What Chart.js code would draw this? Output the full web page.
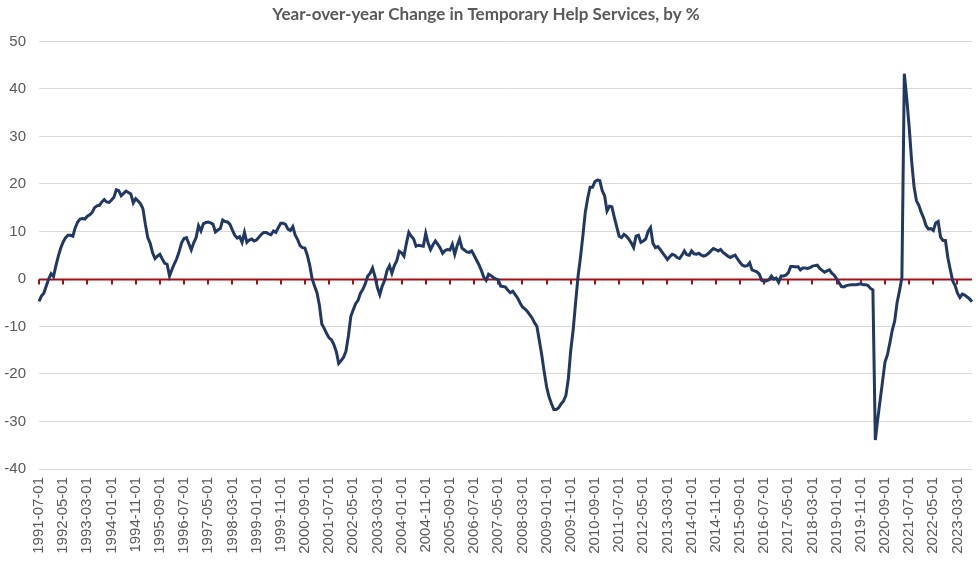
<!DOCTYPE html>
<html>
<head>
<meta charset="utf-8">
<script src="https://cdn.jsdelivr.net/npm/chart.js@4.4.1/dist/chart.umd.min.js"></script>
<style>
  html, body { margin: 0; padding: 0; background: #fff; }
  #wrap { width: 978px; height: 561px; }
</style>
</head>
<body>
<div id="wrap"><canvas id="chartTemp"></canvas></div>
<script>
// monthly YoY % change, first month = 1991-07
const firstYear = 1991;
const firstMonth = 7;

const yoy1991_1996 = [
  -4.7, -3.6, -3.0, -1.5, 0.0, 1.1, 0.5, 2.8, 4.8, 6.5, 7.8, 8.7,
  9.2, 9.2, 9.0, 10.8, 12.0, 12.6, 12.7, 12.6, 13.2, 13.5, 14.0, 15.0,
  15.4, 15.5, 16.2, 16.7, 16.2, 16.1, 16.6, 17.2, 18.8, 18.6, 17.5, 18.0,
  18.5, 18.2, 17.9, 16.0, 16.9, 16.4, 15.8, 14.8, 11.5, 8.7, 7.5, 5.5,
  4.3, 4.8, 5.2, 4.2, 3.3, 3.1, 0.6, 2.0, 3.2, 4.3, 5.8, 7.6
];
const yoy1996_2001 = [
  8.5, 8.7, 7.4, 6.1, 7.6, 8.7, 11.2, 10.1, 11.6, 11.9, 12.0, 11.8,
  11.5, 9.9, 10.3, 10.6, 12.4, 12.1, 12.0, 11.5, 10.3, 9.2, 8.6, 8.9,
  7.7, 9.8, 7.7, 8.2, 8.4, 8.0, 8.2, 8.8, 9.4, 9.8, 9.8, 9.5,
  9.3, 10.1, 9.8, 10.8, 11.7, 11.7, 11.5, 10.5, 10.2, 11.0, 9.2, 8.3,
  7.0, 6.6, 6.5, 5.0, 2.9, 0.0, -1.5, -2.9, -5.5, -9.5, -10.4, -11.5
];
const yoy2001_2006 = [
  -12.4, -12.8, -13.8, -15.3, -17.8, -17.2, -16.5, -15.2, -12.0, -7.9, -6.5, -5.2,
  -4.5, -3.0, -2.2, -1.0, 0.6, 1.2, 2.3, 0.5, -1.8, -3.3, -1.5, -0.3,
  1.8, 2.8, 1.2, 2.8, 3.8, 5.8, 5.5, 4.8, 7.5, 9.8, 9.0, 8.4,
  6.9, 7.1, 7.0, 6.9, 9.6, 7.5, 6.2, 7.2, 8.0, 7.3, 6.5, 5.4,
  6.0, 6.2, 6.1, 7.3, 5.2, 7.0, 8.4, 6.5, 6.1, 5.7, 5.6, 5.9
];
const yoy2006_2011 = [
  5.0, 4.0, 3.0, 1.8, 0.4, -0.3, 1.0, 0.7, 0.3, 0.0, -0.2, -1.5,
  -1.6, -1.7, -2.4, -2.9, -2.6, -3.3, -4.0, -5.0, -5.9, -6.3, -6.8, -7.5,
  -8.2, -9.2, -10.0, -13.0, -16.0, -19.5, -22.7, -24.8, -26.2, -27.5, -27.5, -27.1,
  -26.3, -25.7, -24.5, -21.0, -15.0, -10.7, -5.0, 0.5, 4.5, 9.0, 14.0, 17.0,
  19.3, 19.3, 20.5, 20.8, 20.7, 18.6, 17.5, 14.3, 15.3, 15.2, 13.0, 11.0
];
const yoy2011_2016 = [
  9.0, 8.7, 9.4, 9.0, 8.4, 7.6, 6.6, 9.0, 9.2, 7.7, 8.0, 8.4,
  10.0, 10.8, 7.5, 6.6, 6.8, 6.2, 5.5, 4.8, 4.1, 4.7, 5.2, 5.0,
  4.5, 4.3, 5.0, 5.9, 5.1, 5.0, 5.9, 5.3, 5.2, 5.4, 5.0, 4.8,
  5.0, 5.4, 5.9, 6.4, 6.2, 5.9, 6.2, 5.6, 5.2, 4.8, 4.5, 4.8,
  5.0, 4.2, 3.5, 2.9, 2.7, 2.8, 3.4, 1.9, 1.7, 1.5, 1.0, -0.3
];
const yoy2016_2021 = [
  -0.5, -0.4, -0.2, 0.6, 0.0, 0.2, -0.7, 0.6, 0.6, 0.8, 1.3, 2.6,
  2.6, 2.5, 2.6, 1.9, 2.3, 2.3, 2.2, 2.4, 2.7, 2.8, 2.9, 2.2,
  1.8, 1.4, 1.7, 1.9, 1.2, 0.8, 0.0, -0.8, -1.6, -1.7, -1.4, -1.3,
  -1.2, -1.2, -1.2, -1.1, -1.0, -1.2, -1.2, -1.4, -2.0, -2.3, -33.9, -29.5,
  -25.5, -21.5, -17.5, -16.0, -13.5, -10.8, -8.9, -5.0, -2.5, 0.3, 43.2, 38.0
];
const yoy2021_2023 = [
  32.0, 25.0, 19.5, 16.5, 15.5, 14.0, 12.8, 11.2, 10.5, 10.6, 10.2, 11.8,
  12.1, 8.8, 8.1, 8.1, 4.5, 2.0, -0.4, -1.4, -3.0, -3.9, -3.2, -3.4,
  -3.8, -4.2, -4.8
];

const yoyValues = [].concat(yoy1991_1996, yoy1996_2001, yoy2001_2006,
  yoy2006_2011, yoy2011_2016, yoy2016_2021, yoy2021_2023);

// category labels YYYY-MM-01
const monthLabels = [];
for (let i = 0; i < yoyValues.length; i++) {
  const m = firstMonth - 1 + i;
  const yy = firstYear + Math.floor(m / 12);
  const mm = (m % 12) + 1;
  monthLabels.push(yy + "-" + (mm < 10 ? "0" + mm : mm) + "-01");
}

const labelEvery = 10;
const yMin = -40;
const yMax = 50;
const yStep = 10;

// zero axis line in red with tick marks, like the Excel category axis
const zeroAxis = {
  id: "zeroAxis",
  beforeDatasetsDraw(chart) {
    const ctx = chart.ctx;
    const x = chart.scales.x;
    const y = chart.scales.y;
    const y0 = Math.round(y.getPixelForValue(0)) + 0.5;
    ctx.save();
    ctx.strokeStyle = "#a50f15";
    ctx.lineWidth = 2;
    ctx.beginPath();
    ctx.moveTo(chart.chartArea.left, y0);
    ctx.lineTo(chart.chartArea.right, y0);
    ctx.stroke();
    ctx.beginPath();
    for (let i = 0; i < monthLabels.length; i += labelEvery) {
      const px = Math.round(x.getPixelForValue(i));
      ctx.moveTo(px, y0);
      ctx.lineTo(px, y0 + 5);
    }
    ctx.stroke();
    ctx.restore();
  }
};

new Chart(document.getElementById("chartTemp"), {
  type: "line",
  data: {
    labels: monthLabels,
    datasets: [{
      data: yoyValues,
      borderColor: "#203864",
      borderWidth: 3,
      pointRadius: 0,
      tension: 0,
      fill: false
    }]
  },
  plugins: [zeroAxis],
  options: {
    responsive: true,
    maintainAspectRatio: false,
    animation: false,
    layout: { padding: { top: 0, right: 6, bottom: 0, left: 0 } },
    plugins: {
      legend: { display: false },
      tooltip: { enabled: false },
      title: {
        display: true,
        text: "Year-over-year Change in Temporary Help Services, by %",
        color: "#595959",
        font: { family: "Lato", size: 17, weight: "bold" },
        padding: { top: 4, bottom: 17 }
      }
    },
    scales: {
      x: {
        grid: { display: false, drawTicks: false },
        border: { display: false },
        ticks: {
          autoSkip: false,
          minRotation: 90,
          maxRotation: 90,
          padding: 8,
          color: "#595959",
          font: { family: "Liberation Sans", size: 15 },
          callback: function (v, i) {
            return i % labelEvery === 0 ? monthLabels[i] : "";
          }
        },
        afterFit: function (s) {
          s.height = 92;
          s.paddingLeft = 0;
          s.paddingRight = 0;
        }
      },
      y: {
        min: yMin,
        max: yMax,
        grid: {
          drawTicks: false,
          color: function (c) { return c.tick.value === 0 ? "rgba(0,0,0,0)" : "#d9d9d9"; }
        },
        border: { display: false },
        ticks: {
          stepSize: yStep,
          padding: 13,
          color: "#595959",
          font: { family: "Liberation Sans", size: 15 }
        },
        afterFit: function (s) { s.width = 39; }
      }
    }
  }
});
</script>
</body>
</html>
